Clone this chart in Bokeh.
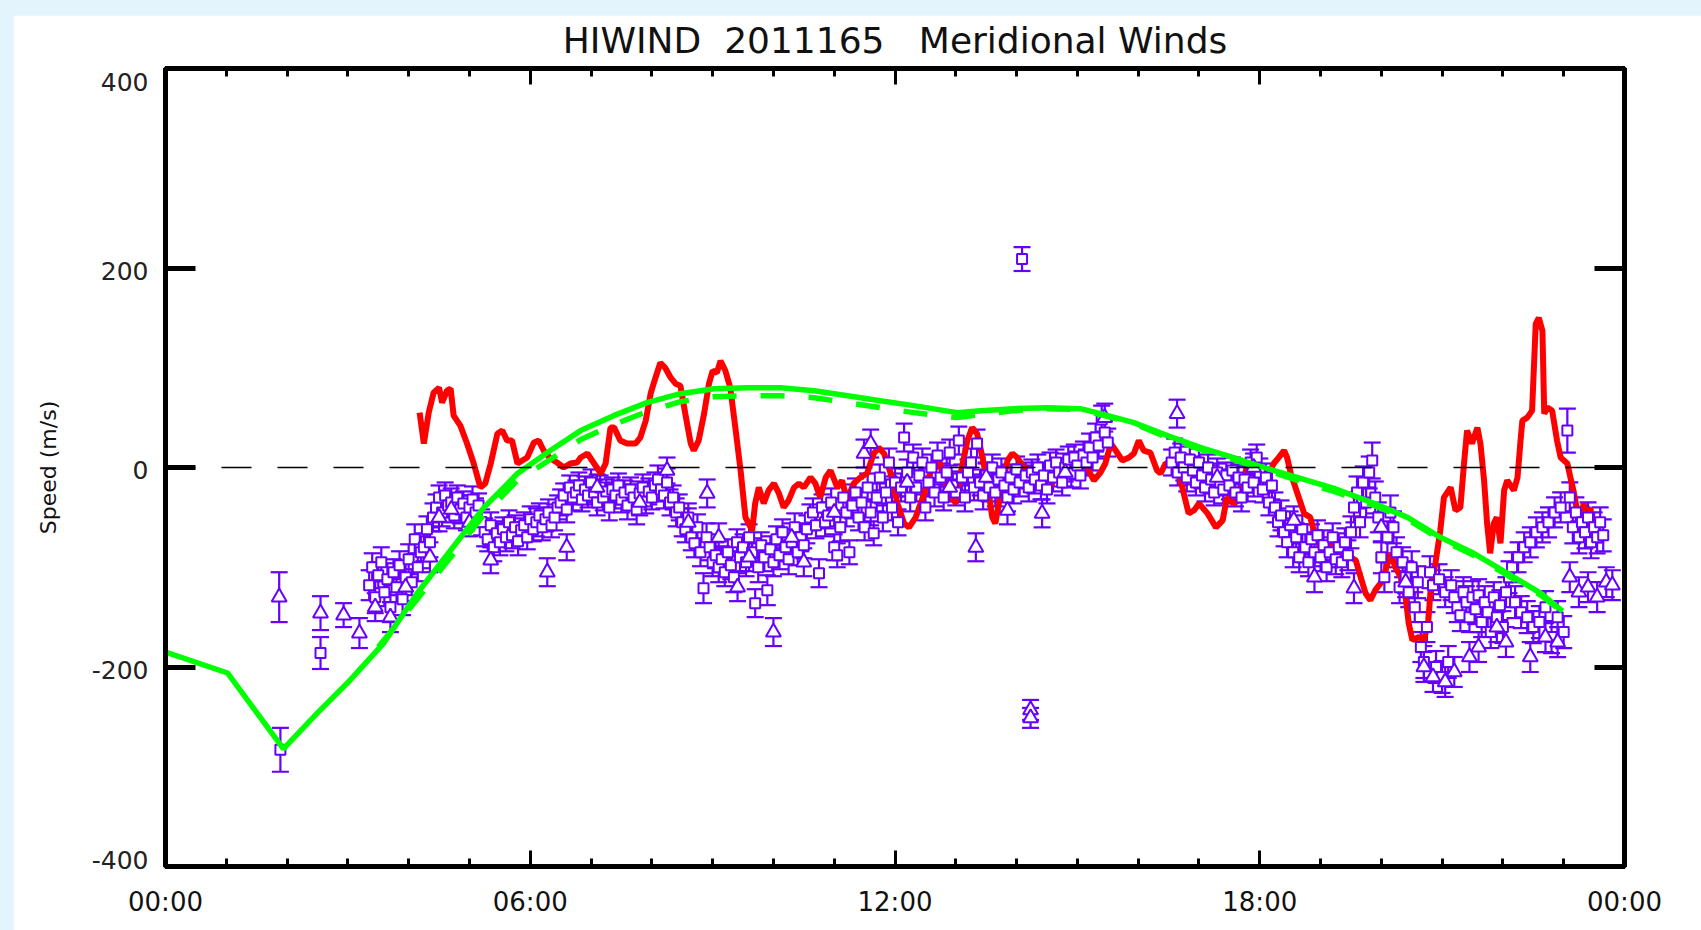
from bokeh.plotting import figure
from bokeh.models import (FixedTicker, LinearAxis, Range1d, Whisker, TeeHead,
                          ColumnDataSource, Span)
from bokeh.embed import file_html
from bokeh.resources import INLINE

# ---- axis ticks and labels ----
hour_major = [0, 6, 12, 18, 24]
hour_minor = list(range(25))
hour_labels = {0: "00:00", 6: "06:00", 12: "12:00", 18: "18:00", 24: "00:00"}
speed_ticks = [-400, -200, 0, 200, 400]
speed_labels = {-400: "-400", -200: "-200", 0: "0", 200: "200", 400: "400"}

# ---- model winds (solid and dashed green) ----
model_h = [0, 1.02, 1.94, 2.5, 3.04, 3.59, 4.14, 4.69, 5.24, 5.79, 6.33, 6.83,
           7.37, 7.92, 8.47, 9.02, 9.57, 10.12, 10.67, 11.22, 11.76, 12.31,
           13.02, 13.41, 13.96, 14.5, 15.05, 15.38, 15.93, 16.48, 17.03, 17.57,
           18.12, 18.67, 19.22, 19.88, 20.43, 20.97, 21.52, 22.07, 22.62, 22.98]
model_v = [-185, -206, -282, -246, -213, -176, -126, -83, -40, -6, 17, 37,
           52, 65, 74, 79, 80, 80, 77, 72, 67, 62,
           55, 57, 59, 60, 59, 54, 45, 32, 20, 10,
           -1, -11, -21, -36, -50, -70, -86, -106, -126, -144]

model2_h = [3.5, 4.14, 4.69, 5.24, 5.79, 6.33, 6.83, 7.37, 7.92, 8.47, 9.02,
            9.57, 10.12, 10.67, 11.22, 11.76, 12.31, 13.02, 13.41, 13.96, 14.5,
            15.05, 15.38, 15.93, 16.48, 17.03, 17.57, 18.12, 18.67, 19.22,
            19.88, 20.43, 20.97, 21.52, 22.07, 22.62, 22.98]
model2_v = [-180, -132, -90, -47, -13, 8, 28, 43, 56, 66, 71,
            72, 72, 70, 65, 60, 55, 50, 53, 57, 59,
            58, 53, 44, 30, 18, 8, -3, -14, -24,
            -38, -52, -72, -88, -108, -128, -145]

# ---- measured winds (red) ----
meas_h = [4.18, 4.25, 4.33, 4.41, 4.50, 4.55, 4.63, 4.69, 4.74, 4.85, 4.96, 5.07,
          5.18, 5.26, 5.35, 5.46, 5.54, 5.62, 5.70, 5.79, 5.95, 6.06, 6.14, 6.22,
          6.33, 6.44, 6.55, 6.66, 6.77, 6.83, 6.94, 7.05, 7.16, 7.24, 7.32, 7.38,
          7.48, 7.59, 7.73, 7.81, 7.90, 7.98, 8.06, 8.14, 8.22, 8.31, 8.39, 8.47,
          8.55, 8.64, 8.69, 8.77, 8.86, 8.94, 9.00, 9.07, 9.13, 9.21, 9.29, 9.38,
          9.46, 9.54, 9.65, 9.70, 9.76, 9.84, 9.92, 10.01, 10.09, 10.17, 10.25,
          10.34, 10.42, 10.50, 10.61, 10.69, 10.77, 10.86, 10.94, 11.05, 11.13,
          11.21, 11.32, 11.43, 11.54, 11.65, 11.73, 11.82, 11.93, 12.04, 12.15,
          12.23, 12.34, 12.48, 12.59, 12.70, 12.78, 12.89, 13.00, 13.08, 13.19,
          13.27, 13.35, 13.44, 13.52, 13.60, 13.65, 13.74, 13.85, 13.93, 14.01,
          14.12, 14.23, 14.34, 14.42, 14.50, 14.61, 14.72, 14.83, 14.94, 15.05,
          15.16, 15.27, 15.38, 15.46, 15.55, 15.63, 15.74, 15.85, 15.93, 16.01,
          16.09, 16.20, 16.31, 16.37, 16.45, 16.56, 16.67, 16.75, 16.83, 16.92,
          17.00, 17.14, 17.28, 17.39, 17.46, 17.57, 17.66, 17.74, 17.82, 17.88,
          17.93, 18.01, 18.12, 18.23, 18.31, 18.40, 18.45, 18.51, 18.62, 18.73,
          18.83, 18.92, 19.00, 19.11, 19.22, 19.33, 19.44, 19.58, 19.66, 19.74,
          19.82, 19.90, 19.99, 20.07, 20.15, 20.23, 20.32, 20.40, 20.45, 20.51,
          20.62, 20.70, 20.77, 20.81, 20.89, 20.97, 21.03, 21.14, 21.22, 21.30,
          21.36, 21.41, 21.49, 21.58, 21.63, 21.69, 21.74, 21.79, 21.85, 21.90,
          21.96, 22.02, 22.07, 22.18, 22.24, 22.29, 22.32, 22.40, 22.48, 22.54,
          22.59, 22.65, 22.68, 22.73, 22.81, 22.89, 22.95, 23.06, 23.11, 23.16,
          23.22, 23.27, 23.33, 23.38, 23.44, 23.49]
meas_v = [55, 24, 55, 75, 80, 65, 77, 79, 52, 42, 24, 4,
          -20, -16, 4, 34, 37, 27, 27, 4, 10, 25, 27, 17,
          9, 5, 0, 4, 5, 10, 14, 4, -6, 4, 40, 40,
          27, 24, 24, 30, 47, 74, 90, 105, 100, 90, 84, 82,
          54, 24, 17, 27, 54, 84, 97, 95, 107, 97, 80, 37,
          -3, -50, -63, -36, -20, -36, -23, -16, -26, -40, -33,
          -20, -16, -20, -10, -16, -30, -10, -3, -20, -13,
          -33, -16, -10, -6, 14, 20, 14, -6, -36, -56,
          -60, -50, -26, -3, 14, -6, -26, -36, -6, 27,
          40, 34, 10, -16, -50, -56, -26, 7, 14, 10,
          0, -3, -3, -20, -26, -13, -6, -3, 0, -3,
          0, -13, -5, 4, 24, 17, 7, 10, 14, 27,
          17, 15, -3, -6, 4, 4, -6, -26, -46, -43,
          -36, -46, -60, -53, -30, -36, -33, -10, 7, 5,
          -3, -10, -10, 4, 10, 17, 10, -6, -26, -46,
          -50, -70, -80, -76, -80, -85, -88, -93, -110, -126,
          -133, -123, -116, -103, -86, -100, -110, -130, -156, -173,
          -170, -173, -156, -123, -96, -63, -30, -20, -43, -40,
          4, 37, 24, 40, 24, -13, -56, -86, -56, -50,
          -76, -23, -13, -23, -10, 27, 47, 50, 57, 144,
          150, 137, 54, 60, 57, 27, 10, 4, -10, -23,
          -43, -53, -36, -63, -40, -76]

# ---- interferometer winds, square symbols: (hour, speed, error) ----
square_obs = [
    (1.89, -283, 22), (2.55, -186, 16),
    (3.35, -118, 15), (3.40, -100, 14), (3.45, -130, 16), (3.50, -108, 13),
    (3.55, -95, 15), (3.60, -125, 14), (3.65, -112, 16), (3.70, -140, 15),
    (3.75, -105, 13), (3.80, -120, 15), (3.85, -98, 14), (3.90, -132, 16),
    (3.95, -110, 14), (4.00, -92, 15), (4.05, -115, 13), (4.10, -72, 15),
    (4.15, -100, 14), (4.20, -85, 16), (4.25, -80, 14), (4.30, -62, 13),
    (4.35, -75, 15), (4.40, -50, 14), (4.45, -40, 13), (4.50, -30, 12),
    (4.55, -45, 14), (4.60, -28, 13), (4.65, -38, 12), (4.70, -35, 14),
    (4.75, -48, 13), (4.80, -30, 12), (4.85, -42, 14), (4.90, -36, 12),
    (4.95, -50, 13), (5.00, -40, 12), (5.05, -32, 13), (5.10, -45, 14),
    (5.15, -38, 12), (5.20, -55, 13), (5.25, -65, 14), (5.30, -72, 12),
    (5.35, -58, 13), (5.40, -80, 14), (5.45, -66, 12), (5.50, -75, 13),
    (5.55, -62, 12), (5.60, -70, 14), (5.65, -55, 12), (5.70, -68, 13),
    (5.75, -60, 12), (5.80, -74, 14), (5.85, -63, 12), (5.90, -58, 13),
    (5.95, -70, 12), (6.00, -52, 13), (6.05, -62, 12), (6.10, -55, 14),
    (6.15, -48, 12), (6.20, -60, 13), (6.25, -52, 12), (6.30, -45, 13),
    (6.35, -58, 12), (6.40, -50, 13), (6.45, -40, 12), (6.50, -35, 13),
    (6.55, -28, 12), (6.60, -42, 13), (6.65, -20, 12), (6.70, -30, 13),
    (6.75, -25, 12), (6.80, -18, 13), (6.85, -32, 12), (6.90, -22, 13),
    (6.95, -28, 12), (7.00, -15, 13), (7.05, -25, 12), (7.10, -35, 13),
    (7.15, -20, 12), (7.20, -30, 13), (7.25, -24, 12), (7.30, -40, 13),
    (7.35, -22, 12), (7.40, -28, 13), (7.45, -18, 12), (7.50, -32, 13),
    (7.55, -25, 12), (7.60, -38, 14), (7.65, -22, 12), (7.70, -30, 13),
    (7.75, -42, 15), (7.80, -26, 12), (7.85, -20, 13), (7.90, -34, 12),
    (7.95, -24, 13), (8.00, -30, 12), (8.05, -18, 13), (8.10, -12, 14),
    (8.15, -22, 12), (8.20, -28, 13), (8.25, -15, 14), (8.30, -35, 13),
    (8.35, -30, 12), (8.40, -45, 14), (8.45, -40, 13), (8.50, -55, 14),
    (8.55, -62, 13), (8.60, -50, 14), (8.65, -70, 13), (8.70, -76, 14),
    (8.75, -60, 13), (8.80, -85, 14), (8.85, -121, 15), (8.90, -70, 14),
    (8.95, -80, 13), (9.00, -95, 14), (9.05, -88, 13), (9.10, -100, 15),
    (9.15, -92, 13), (9.20, -105, 14), (9.25, -85, 13), (9.30, -98, 14),
    (9.35, -110, 15), (9.40, -75, 13), (9.45, -90, 14), (9.50, -80, 13),
    (9.55, -95, 14), (9.60, -70, 13), (9.65, -85, 14), (9.70, -136, 14),
    (9.75, -100, 15), (9.80, -78, 13), (9.85, -90, 14), (9.90, -123, 15),
    (9.95, -82, 13), (10.00, -95, 14), (10.05, -72, 13), (10.10, -88, 14),
    (10.15, -65, 13), (10.20, -80, 14), (10.25, -92, 15), (10.30, -75, 13),
    (10.35, -60, 14), (10.40, -85, 13), (10.45, -70, 14), (10.50, -78, 13),
    (10.55, -62, 14), (10.60, -50, 13), (10.65, -45, 14), (10.70, -58, 13),
    (10.75, -106, 14), (10.80, -40, 13), (10.85, -55, 14), (10.90, -48, 13),
    (10.95, -35, 14), (11.00, -80, 13), (11.05, -88, 12), (11.10, -60, 14),
    (11.15, -30, 13), (11.20, -45, 14), (11.25, -85, 12), (11.30, -38, 13),
    (11.35, -25, 14), (11.40, -50, 13), (11.45, -35, 14), (11.50, -60, 13),
    (11.55, -20, 14), (11.60, -45, 13), (11.65, -66, 12), (11.70, -30, 14),
    (11.75, -10, 13), (11.80, -50, 14), (11.85, -25, 13), (11.90, 5, 14),
    (11.95, -40, 13), (12.00, -15, 14), (12.05, -55, 13), (12.10, -20, 14),
    (12.15, 30, 14), (12.20, -5, 13), (12.25, -30, 14), (12.30, 10, 13),
    (12.35, -20, 14), (12.40, -8, 13), (12.45, 5, 14), (12.50, -40, 13),
    (12.55, -15, 14), (12.60, 0, 13), (12.65, -25, 14), (12.70, 12, 13),
    (12.75, -10, 14), (12.80, -30, 13), (12.85, -5, 14), (12.90, 15, 13),
    (12.95, -18, 14), (13.00, -25, 13), (13.05, 27, 14), (13.10, -10, 13),
    (13.15, -30, 14), (13.20, -5, 13), (13.25, 5, 14), (13.30, -20, 13),
    (13.35, 24, 14), (13.40, -15, 13), (13.45, -28, 14), (13.50, -8, 13),
    (13.55, -20, 14), (13.60, 0, 13), (13.65, -25, 14), (13.70, -12, 13),
    (13.75, -5, 14), (13.80, -18, 13), (13.85, -30, 14), (13.90, -10, 13),
    (13.95, -22, 14), (14.00, -2, 13), (14.05, -15, 14), (14.09, 209, 12),
    (14.15, -8, 13), (14.20, -20, 14), (14.25, -5, 13), (14.30, -12, 14),
    (14.35, 0, 13), (14.40, -18, 14), (14.45, -8, 13), (14.50, -22, 14),
    (14.55, 2, 13), (14.60, -10, 14), (14.65, 5, 13), (14.70, -5, 14),
    (14.75, -15, 13), (14.80, 0, 14), (14.85, 8, 13), (14.90, -6, 14),
    (14.95, 10, 13), (15.00, 2, 14), (15.05, -8, 13), (15.10, 12, 14),
    (15.15, 5, 13), (15.20, 20, 14), (15.25, 10, 13), (15.30, 30, 14),
    (15.35, 22, 13), (15.40, 48, 14), (15.45, 35, 13), (15.50, 25, 14),
    (16.55, 5, 13), (16.60, 15, 14), (16.65, -5, 13), (16.70, 10, 14),
    (16.75, 0, 13), (16.80, -10, 14), (16.85, 8, 13), (16.90, -3, 14),
    (16.95, -15, 13), (17.00, 5, 14), (17.05, -8, 13), (17.10, -20, 14),
    (17.15, 0, 13), (17.20, -12, 14), (17.25, -25, 13), (17.30, -5, 14),
    (17.35, -15, 13), (17.40, -22, 14), (17.45, -8, 13), (17.50, -18, 14),
    (17.55, -3, 13), (17.60, -25, 14), (17.65, -10, 13), (17.70, -30, 14),
    (17.75, -12, 13), (17.80, -20, 14), (17.85, 5, 13), (17.90, -15, 14),
    (17.95, 10, 13), (18.00, -5, 14), (18.05, -22, 13), (18.10, -10, 14),
    (18.15, -35, 13), (18.20, -18, 14), (18.25, -40, 15), (18.30, -55, 14),
    (18.35, -48, 15), (18.40, -65, 14), (18.45, -75, 15), (18.50, -58, 14),
    (18.55, -85, 15), (18.60, -70, 14), (18.65, -90, 15), (18.70, -62, 14),
    (18.75, -80, 15), (18.80, -95, 14), (18.85, -72, 15), (18.90, -85, 14),
    (18.95, -68, 15), (19.00, -90, 14), (19.05, -78, 15), (19.10, -100, 14),
    (19.15, -85, 15), (19.20, -70, 14), (19.25, -92, 15), (19.30, -80, 14),
    (19.35, -95, 15), (19.40, -75, 14), (19.45, -88, 15), (19.50, -65, 16),
    (19.55, -40, 15), (19.60, -25, 16), (19.65, -55, 15), (19.70, -15, 16),
    (19.75, -35, 15), (19.80, -5, 16), (19.85, 7, 18), (19.90, -30, 16),
    (19.95, -50, 15), (20.00, -90, 16), (20.05, -110, 15), (20.10, -70, 16),
    (20.15, -45, 17), (20.20, -60, 16), (20.25, -85, 15), (20.30, -120, 16),
    (20.35, -95, 15), (20.40, -110, 16), (20.45, -125, 15), (20.50, -100, 16),
    (20.55, -140, 15), (20.60, -115, 16), (20.65, -180, 15), (20.70, -195, 16),
    (20.75, -160, 15), (20.80, -105, 16), (20.85, -118, 15), (20.90, -200, 16),
    (20.95, -112, 15), (21.00, -210, 16), (21.05, -125, 15), (21.10, -195, 16),
    (21.15, -118, 15), (21.20, -130, 16), (21.25, -140, 15), (21.30, -148, 16),
    (21.35, -125, 15), (21.40, -135, 16), (21.45, -150, 15), (21.50, -130, 16),
    (21.55, -142, 15), (21.60, -128, 16), (21.65, -155, 15), (21.70, -135, 16),
    (21.75, -145, 15), (21.80, -165, 16), (21.85, -130, 15), (21.90, -150, 16),
    (21.95, -138, 15), (22.00, -160, 16), (22.05, -125, 15), (22.10, -110, 16),
    (22.15, -100, 15), (22.20, -135, 16), (22.25, -90, 15), (22.30, -145, 16),
    (22.35, -80, 15), (22.40, -150, 16), (22.45, -75, 15), (22.50, -160, 16),
    (22.55, -65, 15), (22.60, -155, 16), (22.65, -60, 15), (22.70, -140, 16),
    (22.75, -55, 15), (22.80, -170, 16), (22.85, -45, 15), (22.90, -150, 16),
    (22.95, -40, 15), (23.00, -165, 16), (23.06, 37, 22), (23.10, -30, 15),
    (23.15, -60, 16), (23.20, -45, 15), (23.25, -70, 16), (23.30, -55, 15),
    (23.35, -65, 16), (23.40, -50, 15), (23.45, -75, 16), (23.50, -60, 15),
    (23.55, -70, 16), (23.60, -55, 15), (23.65, -68, 16),
]

# ---- interferometer winds, triangle symbols: (hour, speed, error) ----
triangle_obs = [
    (1.87, -130, 25), (2.55, -146, 17), (2.93, -148, 12), (3.19, -166, 15),
    (3.45, -140, 14), (3.70, -150, 15), (3.95, -120, 14), (4.35, -90, 15),
    (4.50, -50, 14), (4.70, -42, 13), (5.00, -55, 14), (5.35, -93, 13),
    (6.28, -105, 14), (6.60, -80, 13), (7.10, -20, 13), (7.80, -35, 13),
    (8.25, -3, 13), (8.60, -55, 14), (8.91, -26, 14), (9.10, -70, 14),
    (9.41, -120, 14), (9.60, -90, 14), (10.00, -165, 14), (10.30, -70, 14),
    (10.50, -95, 14), (11.00, -45, 14), (11.49, 14, 14), (11.60, 24, 14),
    (12.20, -15, 14), (12.90, -20, 14), (13.33, -80, 14), (13.50, -10, 14),
    (13.85, -43, 14), (14.23, -243, 10), (14.23, -251, 10), (14.42, -46, 14),
    (14.80, -5, 14), (15.45, 50, 14), (16.64, 54, 14), (17.30, -10, 14),
    (17.90, 0, 14), (18.56, -53, 14), (18.90, -110, 15), (19.55, -121, 15),
    (20.00, -60, 15), (20.40, -115, 15), (20.70, -200, 15), (20.85, -210, 15),
    (21.05, -215, 15), (21.20, -205, 15), (21.45, -190, 15), (21.60, -180, 15),
    (21.90, -160, 15), (22.05, -175, 15), (22.45, -190, 15), (22.70, -170, 15),
    (22.90, -175, 15), (23.10, -110, 15), (23.25, -125, 15), (23.40, -120, 15),
    (23.55, -130, 15), (23.70, -115, 15), (23.80, -118, 15),
]

VIOLET = "#6600ff"
GREEN = "#00ff00"
RED = "#ff0000"
FONT = "DejaVu Sans"
NBSP = "\u00a0"


def obs_source(rows):
    h = [r[0] for r in rows]
    v = [r[1] for r in rows]
    lo = [r[1] - r[2] for r in rows]
    up = [r[1] + r[2] for r in rows]
    return ColumnDataSource(dict(h=h, v=v, lo=lo, up=up))


title_text = "HIWIND" + NBSP * 2 + "2011165" + NBSP * 3 + "Meridional Winds"

p = figure(width=1688, height=915,
           x_range=Range1d(0, 24), y_range=Range1d(-400, 400),
           output_backend="svg", toolbar_location=None,
           min_border_left=152, min_border_right=77,
           min_border_top=53, min_border_bottom=64)

p.background_fill_color = "white"
p.border_fill_color = "white"
p.grid.grid_line_color = None
p.outline_line_color = "black"
p.outline_line_width = 5

hour_ticker = FixedTicker(ticks=hour_major, minor_ticks=hour_minor)
speed_ticker = FixedTicker(ticks=speed_ticks, minor_ticks=[])


def style_time_axis(ax, labels=True):
    ax.ticker = hour_ticker
    ax.axis_line_width = 5
    ax.major_tick_in = 16
    ax.major_tick_out = 0
    ax.minor_tick_in = 8
    ax.minor_tick_out = 0
    ax.major_tick_line_width = 3
    ax.minor_tick_line_width = 3
    if labels:
        ax.major_label_overrides = hour_labels
        ax.major_label_text_font = FONT
        ax.major_label_text_font_size = "26px"
        ax.major_label_text_color = "#111111"
        ax.major_label_standoff = 20
    else:
        ax.major_label_overrides = {t: "" for t in hour_major}
        ax.major_label_text_font_size = "1px"
        ax.major_label_standoff = 0


def style_speed_ticks(ax):
    # tick marks only; the labels are drawn by a separate axis
    ax.ticker = speed_ticker
    ax.axis_line_width = 5
    ax.major_tick_in = 30
    ax.major_tick_out = 0
    ax.minor_tick_line_color = None
    ax.major_tick_line_width = 5
    ax.major_label_overrides = {t: "" for t in speed_ticks}
    ax.major_label_text_font_size = "1px"
    ax.major_label_standoff = 0


style_time_axis(p.xaxis[0])
style_speed_ticks(p.yaxis[0])

# top axis carries the plot title as its axis label
top_axis = LinearAxis()
style_time_axis(top_axis, labels=False)
top_axis.axis_label = title_text
top_axis.axis_label_text_font = FONT
top_axis.axis_label_text_font_size = "36px"
top_axis.axis_label_text_font_style = "normal"
top_axis.axis_label_text_color = "#111111"
top_axis.axis_label_standoff = 8
p.add_layout(top_axis, "above")

right_axis = LinearAxis()
style_speed_ticks(right_axis)
p.add_layout(right_axis, "right")

# speed labels: the end labels sit inside the axis range, the rest slightly low
label_shift = {t: (-14 if t == max(speed_ticks) else (7 if t == min(speed_ticks) else -3))
               for t in speed_ticks}
label_pos = [t + label_shift[t] for t in speed_ticks]
label_axis = LinearAxis(
    ticker=FixedTicker(ticks=label_pos, minor_ticks=[]),
    major_label_overrides={t + label_shift[t]: speed_labels[t] for t in speed_ticks},
    axis_line_color=None, major_tick_line_color=None, minor_tick_line_color=None,
    major_label_standoff=11,
    major_label_text_font=FONT, major_label_text_font_size="25px",
    major_label_text_color="#222222",
    axis_label="Speed (m/s)", axis_label_text_font=FONT,
    axis_label_text_font_size="22px", axis_label_text_font_style="normal",
    axis_label_text_color="#111111", axis_label_standoff=28)
p.add_layout(label_axis, "left")

# zero reference
p.add_layout(Span(location=0, dimension="width", line_color="black",
                  line_width=1.5, line_dash="30 26"))

# measured winds
p.line(meas_h, meas_v, line_color=RED, line_width=6)

# interferometer observations with error bars
for rows, marker, size in ((square_obs, "square", 10), (triangle_obs, "triangle", 15)):
    src = obs_source(rows)
    p.add_layout(Whisker(source=src, base="h", lower="lo", upper="up",
                         line_color=VIOLET, line_width=2.2,
                         upper_head=TeeHead(size=17, line_color=VIOLET, line_width=2.2),
                         lower_head=TeeHead(size=17, line_color=VIOLET, line_width=2.2)))
    p.scatter("h", "v", source=src, marker=marker, size=size,
              line_color=VIOLET, line_width=2, fill_color="white")

# model winds
p.line(model2_h, model2_v, line_color=GREEN, line_width=5.5, line_dash="24 24")
p.line(model_h, model_v, line_color=GREEN, line_width=5.5)

html = file_html(p, INLINE, title="HIWIND 2011165 Meridional Winds")
head, sep, tail = html.rpartition("<body>")
html = head + '<body style="margin:0;padding:15px 0 0 13px;background:#e4f4fc;">' + tail
open("out.html", "w").write(html)
